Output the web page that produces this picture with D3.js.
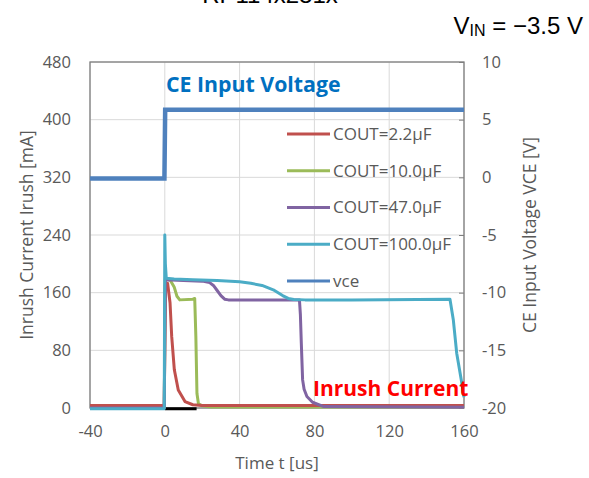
<!DOCTYPE html>
<html><head><meta charset="utf-8">
<script src="https://cdn.jsdelivr.net/npm/d3@7"></script>
<style>body{margin:0;background:#fff;}svg{display:block;}</style>
</head><body>
<svg id="c" width="589" height="478"></svg>
<script>
const xTicks = [-40, 0, 40, 80, 120, 160];
const yLeftTicks = [0, 80, 160, 240, 320, 400, 480];
const yRightTicks = [-20, -15, -10, -5, 0, 5, 10];

const tRed = [-40, -0.3, 0.3, 1.5, 2.8, 3.7, 5.1, 7.2, 10.8, 15, 20, 160];
const vRed = [3.5, 3.5, 170, 173, 146, 99, 53, 25, 9, 4.5, 3.5, 3.5];
const tGreen = [-40, -0.3, 0.3, 3, 5, 6.5, 8, 15, 16, 16.6, 17.2, 18, 20, 25, 160];
const vGreen = [1, 1, 180, 177, 168, 155, 150, 151, 152, 100, 20, 6, 3, 1.5, 1.5];
const tPurple = [-40, -0.3, 0.3, 10, 20, 24, 26, 28, 30, 32, 34, 50, 72, 72.5, 73, 73.7, 74.5, 76, 79, 85, 160];
const vPurple = [0, 0, 178, 177, 176, 174, 170, 163, 156, 151, 150, 150, 150, 130, 90, 39, 26, 16, 8, 2, 1];
const tCyan = [-40, -0.3, 0, 0.3, 0.8, 5, 15, 28, 40, 46, 52, 58, 63, 66, 69, 75, 100, 152.5, 154.3, 156.1, 158.8, 160];
const vCyan = [-1, -1, 240, 200, 180, 179, 178, 177, 175, 173, 170, 164, 156, 152, 150.5, 150, 150, 151, 122, 76, 35, 15];
const tBlack = [0, 17];
const vBlack = [-1, -1];
const tVce = [-40, -0.2, 0.2, 160];
const vVce = [-0.1, -0.1, 5.85, 5.85];

const legendNames = ["COUT=2.2µF", "COUT=10.0µF", "COUT=47.0µF", "COUT=100.0µF", "vce"];
const colors = ["#c0504d", "#9bbb59", "#8064a2", "#4bacc6", "#4f81bd"];

const svg = d3.select("#c");
const L = 90, R = 464, T = 62, B = 408;
const x = d3.scaleLinear().domain([-40, 160]).range([L, R]);
const yL = d3.scaleLinear().domain([0, 480]).range([B, T]);
const yR = d3.scaleLinear().domain([-20, 10]).range([B, T]);
const font = "'Open Sans', sans-serif";
const gray = "#595959";
const fmt = d => String(d);

// top title (clipped at the top edge as in the reference)
svg.append("text").attr("x", 270).attr("y", 3).attr("text-anchor", "middle")
  .attr("font-family", "Liberation Sans, Arial").attr("font-size", 24).attr("fill", "#000").text("RP114x281x");

// VIN label
const vin = svg.append("text").attr("x", 583).attr("y", 34).attr("text-anchor", "end")
  .attr("font-family", "Liberation Sans, Arial").attr("font-size", 24).attr("fill", "#000");
vin.append("tspan").text("V");
vin.append("tspan").attr("font-size", 16).attr("dy", 2).text("IN");
vin.append("tspan").attr("dy", -2).text(" = −3.5 V");

// gridlines
const grid = svg.append("g").attr("stroke", "#d9d9d9").attr("stroke-width", 1);
grid.selectAll("line.h").data(yLeftTicks).join("line")
  .attr("x1", L).attr("x2", R).attr("y1", d => yL(d)).attr("y2", d => yL(d));
grid.selectAll("line.v").data(xTicks).join("line")
  .attr("y1", T).attr("y2", B).attr("x1", d => x(d)).attr("x2", d => x(d));

// axes
const axL = svg.append("g").attr("transform", `translate(${L},0)`)
  .call(d3.axisLeft(yL).tickValues(yLeftTicks).tickFormat(fmt).tickSize(0).tickPadding(19));
const axB = svg.append("g").attr("transform", `translate(0,${B})`)
  .call(d3.axisBottom(x).tickValues(xTicks).tickFormat(fmt).tickSize(0).tickPadding(17));
const axR = svg.append("g").attr("transform", `translate(${R},0)`)
  .call(d3.axisRight(yR).tickValues(yRightTicks).tickFormat(fmt).tickSizeInner(-5).tickSizeOuter(0).tickPadding(18));
[axL, axB, axR].forEach(a => {
  a.select(".domain").remove();
  a.selectAll("text").attr("font-family", font).attr("font-size", 16.5).attr("fill", gray);
  a.selectAll("line").attr("stroke", "#7f7f7f");
});

// plot border
svg.append("rect").attr("x", L).attr("y", T).attr("width", R - L).attr("height", B - T)
  .attr("fill", "none").attr("stroke", "#7f7f7f").attr("stroke-width", 1.3);

// series
const cur = [[tRed, vRed], [tGreen, vGreen], [tPurple, vPurple], [tCyan, vCyan]];
const lineL = d3.line().x(d => x(d[0])).y(d => yL(d[1]));
const lineR = d3.line().x(d => x(d[0])).y(d => yR(d[1]));
const zip = (a, b) => a.map((t, i) => [t, b[i]]);

svg.append("path").attr("d", lineL(zip(tBlack, vBlack))).attr("stroke", "#000").attr("stroke-width", 3).attr("fill", "none");
svg.append("path").attr("d", lineR(zip(tVce, vVce))).attr("stroke", colors[4]).attr("stroke-width", 4.5).attr("fill", "none");
const order = [1, 0, 2, 3];
order.forEach(i => {
  svg.append("path").attr("d", lineL(zip(cur[i][0], cur[i][1])))
    .attr("stroke", colors[i]).attr("stroke-width", 3).attr("fill", "none").attr("stroke-linejoin", "round");
});

// legend
const lg = svg.append("g");
const ly = d3.scalePoint().domain(legendNames).range([134, 281]);
lg.selectAll("line").data(legendNames).join("line")
  .attr("x1", 287).attr("x2", 330).attr("y1", d => ly(d)).attr("y2", d => ly(d))
  .attr("stroke", (d, i) => colors[i]).attr("stroke-width", 3);
lg.selectAll("text").data(legendNames).join("text")
  .attr("x", 333).attr("y", d => ly(d)).attr("dy", "0.35em")
  .attr("font-family", font).attr("font-size", 17).attr("fill", gray).text(d => d);

// annotations
svg.append("text").attr("x", 166).attr("y", 92).attr("font-family", font).attr("font-weight", "bold")
  .attr("font-size", 21.3).attr("fill", "#0070c0").text("CE Input Voltage");
svg.append("text").attr("x", 313).attr("y", 396).attr("font-family", font).attr("font-weight", "bold")
  .attr("font-size", 21).attr("fill", "#ff0000").text("Inrush Current");

// axis titles
svg.append("text").attr("transform", `translate(27,${(T + B) / 2}) rotate(-90)`).attr("text-anchor", "middle")
  .attr("dy", "0.35em").attr("font-family", font).attr("font-size", 17.5).attr("fill", gray).text("Inrush Current Irush [mA]");
svg.append("text").attr("transform", `translate(530,${(T + B) / 2}) rotate(-90)`).attr("text-anchor", "middle")
  .attr("dy", "0.35em").attr("font-family", font).attr("font-size", 17.5).attr("fill", gray).text("CE Input Voltage VCE [V]");
svg.append("text").attr("x", (L + R) / 2).attr("y", 463).attr("text-anchor", "middle").attr("dy", "0.35em")
  .attr("font-family", font).attr("font-size", 17).attr("fill", gray).text("Time t [us]");
</script>
</body></html>
